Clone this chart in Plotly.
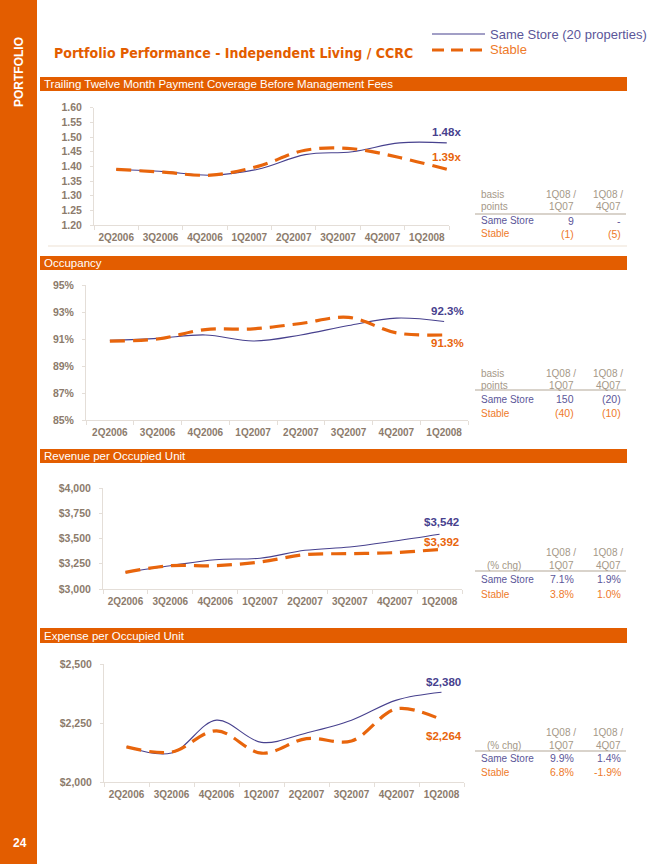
import numpy as np
import plotly.graph_objects as go

# ---------------- data ----------------
QUARTERS = ["2Q2006", "3Q2006", "4Q2006", "1Q2007", "2Q2007", "3Q2007", "4Q2007", "1Q2008"]

COV_SAME = [1.39, 1.382, 1.37, 1.39, 1.44, 1.45, 1.48, 1.48]
COV_STABLE = [1.39, 1.38, 1.37, 1.40, 1.455, 1.46, 1.43, 1.39]
COV_TICKS = [1.20, 1.25, 1.30, 1.35, 1.40, 1.45, 1.50, 1.55, 1.60]

OCC_SAME = [90.9, 91.05, 91.3, 90.85, 91.3, 92.0, 92.55, 92.3]
OCC_STABLE = [90.85, 91.0, 91.7, 91.75, 92.15, 92.6, 91.45, 91.3]
OCC_TICKS = [85, 87, 89, 91, 93, 95]

REV_SAME = [3165, 3231, 3290, 3305, 3383, 3416, 3475, 3542]
REV_STABLE = [3165, 3231, 3231, 3268, 3340, 3350, 3360, 3392]
REV_TICKS = [3000, 3250, 3500, 3750, 4000]

EXP_SAME = [2149, 2123, 2262, 2168, 2208, 2262, 2347, 2380]
EXP_STABLE = [2149, 2127, 2217, 2122, 2184, 2174, 2310, 2264]
EXP_TICKS = [2000, 2250, 2500]

COV_TABLE = {"head": ["basis", "points"], "same": ["9", "-"], "stable": ["(1)", "(5)"]}
OCC_TABLE = {"head": ["basis", "points"], "same": ["150", "(20)"], "stable": ["(40)", "(10)"]}
REV_TABLE = {"head": ["", "(% chg)"], "same": ["7.1%", "1.9%"], "stable": ["3.8%", "1.0%"]}
EXP_TABLE = {"head": ["", "(% chg)"], "same": ["9.9%", "1.4%"], "stable": ["6.8%", "-1.9%"]}
COL_HEADS = [["1Q08 /", "1Q07"], ["1Q08 /", "4Q07"]]

SECTION_TITLES = ["Trailing Twelve Month Payment Coverage Before Management Fees",
                  "Occupancy", "Revenue per Occupied Unit", "Expense per Occupied Unit"]

# ---------------- style ----------------
W, H = 650, 864
ORANGE = "#e35d00"
LINE_OR = "#e8650c"
NAVY = "#47418e"
TXT_NAVY = "#5b5699"
TXT_OR = "#ee7a2a"
TICK = "#8c7b6c"
HEADG = "#a59888"
AXC = "#e4ded8"
NARROW = "DejaVu Sans Condensed, Liberation Sans Narrow, Arial Narrow, sans-serif"
SANS = "Liberation Sans, Arial, sans-serif"


def fx(px):
    return px / W


def fy(py):
    return 1 - py / H


fig = go.Figure()

charts = [
    dict(same=COV_SAME, stable=COV_STABLE, xd=(94, 449), yd=(107.7, 225), yr=(1.20, 1.60),
         ytv=COV_TICKS, yfmt=lambda v: f"{v:.2f}",
         xend=7.95, lab=lambda v: f"{v:.2f}x", ls=(11, 12), lx=0, table=COV_TABLE,
         trow=(195, 206, 213, 221, 234)),
    dict(same=OCC_SAME, stable=OCC_STABLE, xd=(86, 468), yd=(285, 420), yr=(85, 95),
         ytv=OCC_TICKS, yfmt=lambda v: f"{v:.0f}%",
         xend=7.5, lab=lambda v: f"{v:.1f}%", ls=(10, -8), lx=3, table=OCC_TABLE,
         trow=(373, 385, 389, 399, 413)),
    dict(same=REV_SAME, stable=REV_STABLE, xd=(103, 462), yd=(488, 589), yr=(3000, 4000),
         ytv=REV_TICKS, yfmt=lambda v: f"${v:,.0f}",
         xend=7.5, lab=lambda v: f"${v:,.0f}", ls=(12, 7), lx=2, table=REV_TABLE,
         trow=(552, 565, 570, 579, 594)),
    dict(same=EXP_SAME, stable=EXP_STABLE, xd=(104, 464), yd=(664, 782), yr=(2000, 2500),
         ytv=EXP_TICKS, yfmt=lambda v: f"${v:,.0f}",
         xend=7.5, lab=lambda v: f"${v:,.0f}", ls=(10, -16), lx=2, table=EXP_TABLE,
         trow=(732, 745, 750, 758, 772)),
]

annotations = []
shapes = []

for i, c in enumerate(charts):
    n = i + 1
    xa = "x" if n == 1 else f"x{n}"
    ya = "y" if n == 1 else f"y{n}"
    xs = np.linspace(0.5, c["xend"], len(QUARTERS))
    fig.add_trace(go.Scatter(x=xs, y=c["same"], mode="lines", xaxis=xa, yaxis=ya,
                             line=dict(color=NAVY, width=1.1, shape="spline", smoothing=1.0),
                             showlegend=False, hoverinfo="skip", cliponaxis=False))
    fig.add_trace(go.Scatter(x=xs, y=c["stable"], mode="lines", xaxis=xa, yaxis=ya,
                             line=dict(color=LINE_OR, width=3.2, shape="spline", smoothing=1.0,
                                       dash="15px,8px"),
                             showlegend=False, hoverinfo="skip", cliponaxis=False))
    key = "" if n == 1 else str(n)
    fig.update_layout(**{
        f"xaxis{key}": dict(domain=[fx(c["xd"][0]), fx(c["xd"][1])], range=[0, 8], anchor=ya,
                            tickmode="array", tickvals=[k + 0.5 for k in range(len(QUARTERS))],
                            ticktext=QUARTERS, ticks="", showline=True, linecolor=AXC, linewidth=1,
                            showgrid=False, zeroline=False, ticklabelstandoff=3, automargin=False,
                            tickfont=dict(family=SANS, size=10, color=TICK, weight="bold"),
                            minor=dict(tickmode="array", tickvals=list(range(len(QUARTERS) + 1)),
                                       ticks="outside", ticklen=4, tickcolor=AXC, tickwidth=1)),
        f"yaxis{key}": dict(domain=[fy(c["yd"][1]), fy(c["yd"][0])], range=list(c["yr"]), anchor=xa,
                            tickmode="array", tickvals=c["ytv"],
                            ticktext=[c["yfmt"](v) for v in c["ytv"]],
                            ticks="outside", ticklen=3, automargin=False,
                            tickcolor=AXC, showline=True, linecolor=AXC, linewidth=1,
                            showgrid=False, zeroline=False, ticklabelstandoff=6,
                            tickfont=dict(family=SANS, size=10.5, color=TICK, weight="bold")),
    })
    # end labels
    for vals, col, ys in ((c["same"], NAVY, c["ls"][0]), (c["stable"], LINE_OR, c["ls"][1])):
        annotations.append(dict(x=xs[-1], y=vals[-1], xref=xa, yref=ya, text=c["lab"](vals[-1]),
                                showarrow=False, xanchor="center", yanchor="middle",
                                xshift=c["lx"], yshift=ys,
                                font=dict(family=SANS, size=11.5, color=col, weight="bold")))
    # side table
    t = c["table"]
    r = c["trow"]
    tf = dict(family=SANS, size=10, color=HEADG)
    if t["head"][0]:
        annotations.append(dict(x=fx(479), y=fy(r[0]), xref="paper", yref="paper", text=t["head"][0],
                                showarrow=False, xanchor="left", yanchor="middle", font=tf))
        annotations.append(dict(x=fx(479), y=fy(r[1]), xref="paper", yref="paper", text=t["head"][1],
                                showarrow=False, xanchor="left", yanchor="middle", font=tf))
    else:
        annotations.append(dict(x=fx(504), y=fy(r[1]), xref="paper", yref="paper", text=t["head"][1],
                                showarrow=False, xanchor="center", yanchor="middle", font=tf))
    for colx, heads, s_val, st_val in ((578, COL_HEADS[0], t["same"][0], t["stable"][0]),
                                        (625, COL_HEADS[1], t["same"][1], t["stable"][1])):
        annotations.append(dict(x=fx(colx), y=fy(r[0]), xref="paper", yref="paper", text=heads[0],
                                showarrow=False, xanchor="right", yanchor="middle", font=tf))
        annotations.append(dict(x=fx(colx - 2), y=fy(r[1]), xref="paper", yref="paper", text=heads[1],
                                showarrow=False, xanchor="right", yanchor="middle", font=tf))
        annotations.append(dict(x=fx(colx - 2), y=fy(r[3]), xref="paper", yref="paper", text=s_val,
                                showarrow=False, xanchor="right", yanchor="middle",
                                font=dict(family=SANS, size=10.5, color=TXT_NAVY)))
        annotations.append(dict(x=fx(colx - 2), y=fy(r[4]), xref="paper", yref="paper", text=st_val,
                                showarrow=False, xanchor="right", yanchor="middle",
                                font=dict(family=SANS, size=10.5, color=TXT_OR)))
    annotations.append(dict(x=fx(479), y=fy(r[3]), xref="paper", yref="paper", text="Same Store",
                            showarrow=False, xanchor="left", yanchor="middle",
                            font=dict(family=SANS, size=10, color=TXT_NAVY)))
    annotations.append(dict(x=fx(479), y=fy(r[4]), xref="paper", yref="paper", text="Stable",
                            showarrow=False, xanchor="left", yanchor="middle",
                            font=dict(family=SANS, size=10, color=TXT_OR)))
    shapes.append(dict(type="line", xref="paper", yref="paper", x0=fx(475), x1=fx(626),
                       y0=fy(r[2] + 1), y1=fy(r[2] + 1), line=dict(color="#cdc4ba", width=1.5)))

# page decoration
shapes.append(dict(type="rect", xref="paper", yref="paper", x0=0, x1=fx(37), y0=0, y1=1,
                   fillcolor=ORANGE, line=dict(width=0), layer="below"))
bars = [(77, 91), (256, 270), (449, 463), (628, 643)]
for (b0, b1), title in zip(bars, SECTION_TITLES):
    shapes.append(dict(type="rect", xref="paper", yref="paper", x0=fx(40), x1=fx(627),
                       y0=fy(b1), y1=fy(b0), fillcolor=ORANGE, line=dict(width=0), layer="below"))
    annotations.append(dict(x=fx(42), y=fy((b0 + b1) / 2), xref="paper", yref="paper", text=title,
                            showarrow=False, xanchor="left", yanchor="middle",
                            font=dict(family=SANS, size=11.5, color="white")))
shapes.append(dict(type="line", xref="paper", yref="paper", x0=fx(48), x1=fx(627),
                   y0=fy(246), y1=fy(246), line=dict(color="#f3ebe2", width=1.5)))

annotations.append(dict(x=fx(19), y=fy(72), xref="paper", yref="paper", text="PORTFOLIO",
                        showarrow=False, textangle=-90, xanchor="center", yanchor="middle",
                        font=dict(family=SANS, size=12, color="white", weight="bold")))
annotations.append(dict(x=fx(20), y=fy(843), xref="paper", yref="paper", text="24",
                        showarrow=False, xanchor="center", yanchor="middle",
                        font=dict(family=SANS, size=12, color="white", weight="bold")))
annotations.append(dict(x=fx(52), y=fy(53), xref="paper", yref="paper",
                        text="Portfolio Performance - Independent Living / CCRC",
                        showarrow=False, xanchor="left", yanchor="middle",
                        font=dict(family=NARROW, size=14, color=ORANGE, weight="bold")))

# legend (top right)
shapes.append(dict(type="line", xref="paper", yref="paper", x0=fx(432), x1=fx(485),
                   y0=fy(34), y1=fy(34), line=dict(color=NAVY, width=1.2)))
shapes.append(dict(type="line", xref="paper", yref="paper", x0=fx(432), x1=fx(485),
                   y0=fy(50), y1=fy(50), line=dict(color=LINE_OR, width=3.2, dash="12px,7px")))
annotations.append(dict(x=fx(488), y=fy(34), xref="paper", yref="paper", text="Same Store (20 properties)",
                        showarrow=False, xanchor="left", yanchor="middle",
                        font=dict(family=SANS, size=13, color=TXT_NAVY)))
annotations.append(dict(x=fx(488), y=fy(50), xref="paper", yref="paper", text="Stable",
                        showarrow=False, xanchor="left", yanchor="middle",
                        font=dict(family=SANS, size=13, color=TXT_OR)))

fig.update_layout(width=W, height=H, margin=dict(l=0, r=0, t=0, b=0, pad=0, autoexpand=False),
                  paper_bgcolor="white", plot_bgcolor="white",
                  annotations=annotations, shapes=shapes, showlegend=False)

fig.write_html("out.html")
